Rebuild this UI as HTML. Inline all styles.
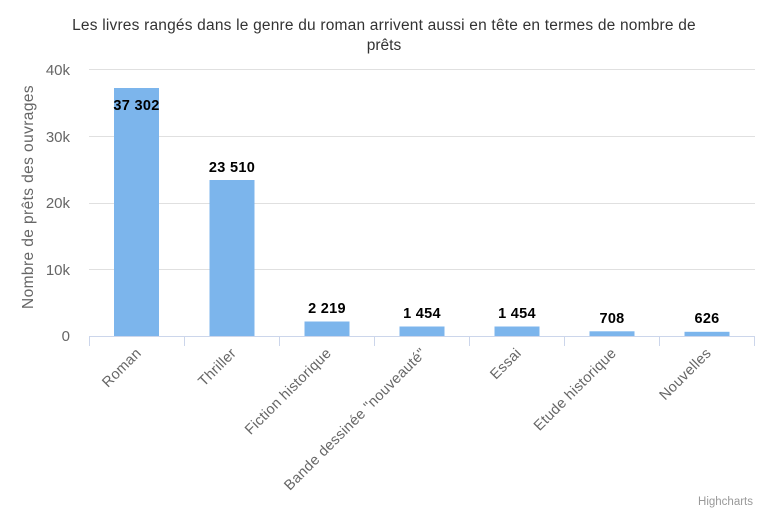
<!DOCTYPE html><html><head><style>body{margin:0;background:#fff}svg{display:block;font-family:"Liberation Sans",sans-serif}</style></head><body>
<svg width="768" height="512" viewBox="0 0 768 512">
<text x="384" y="30" text-anchor="middle" font-size="15.5" fill="#333" letter-spacing="0.2">Les livres rangés dans le genre du roman arrivent aussi en tête en termes de nombre de</text>
<text x="384" y="50" text-anchor="middle" font-size="15.5" fill="#333">prêts</text>
<g stroke="#e0e0e0" stroke-width="1">
<line x1="89" x2="755" y1="69.5" y2="69.5"/><line x1="89" x2="755" y1="136.5" y2="136.5"/><line x1="89" x2="755" y1="203.5" y2="203.5"/><line x1="89" x2="755" y1="269.5" y2="269.5"/>
</g>
<g stroke="#ccd6eb" stroke-width="1">
<line x1="89" x2="755" y1="336.5" y2="336.5"/>
<line x1="89.5" x2="89.5" y1="336" y2="346"/><line x1="184.5" x2="184.5" y1="336" y2="346"/><line x1="279.5" x2="279.5" y1="336" y2="346"/><line x1="374.5" x2="374.5" y1="336" y2="346"/><line x1="469.5" x2="469.5" y1="336" y2="346"/><line x1="564.5" x2="564.5" y1="336" y2="346"/><line x1="659.5" x2="659.5" y1="336" y2="346"/><line x1="754.5" x2="754.5" y1="336" y2="346"/>
</g>
<g font-size="15" fill="#666" text-anchor="end">
<text x="70" y="75">40k</text><text x="70" y="142">30k</text><text x="70" y="208">20k</text><text x="70" y="275">10k</text><text x="70" y="341">0</text>
</g>
<text transform="translate(33,197) rotate(-90)" text-anchor="middle" font-size="15.5" fill="#666" letter-spacing="0.4">Nombre de prêts des ouvrages</text>
<g fill="#7cb5ec">
<rect x="114" y="88" width="45" height="248"/>
<rect x="209.5" y="180" width="45" height="156"/>
<rect x="304.5" y="321.5" width="45" height="14.5"/>
<rect x="399.5" y="326.5" width="45" height="9.5"/>
<rect x="494.5" y="326.5" width="45" height="9.5"/>
<rect x="589.5" y="331.3" width="45" height="4.7"/>
<rect x="684.5" y="331.8" width="45" height="4.2"/>
</g>
<g font-size="14.5" font-weight="bold" fill="#000" text-anchor="middle" letter-spacing="0.3">
<text x="136.5" y="110">37 302</text><text x="232" y="172">23 510</text><text x="327" y="313">2 219</text><text x="422" y="318">1 454</text><text x="517" y="318">1 454</text><text x="612" y="323">708</text><text x="707" y="323">626</text>
</g>
<g font-size="14.5" fill="#666" text-anchor="end" letter-spacing="0.3">
<text transform="translate(142,354) rotate(-45)">Roman</text>
<text transform="translate(237,354) rotate(-45)">Thriller</text>
<text transform="translate(332,354) rotate(-45)">Fiction historique</text>
<text transform="translate(427,354) rotate(-45)">Bande dessinée "nouveauté"</text>
<text transform="translate(522,354) rotate(-45)">Essai</text>
<text transform="translate(617,354) rotate(-45)">Etude historique</text>
<text transform="translate(712,354) rotate(-45)">Nouvelles</text>
</g>
<text x="753" y="505" text-anchor="end" font-size="11.5" fill="#999">Highcharts</text>
</svg></body></html>
